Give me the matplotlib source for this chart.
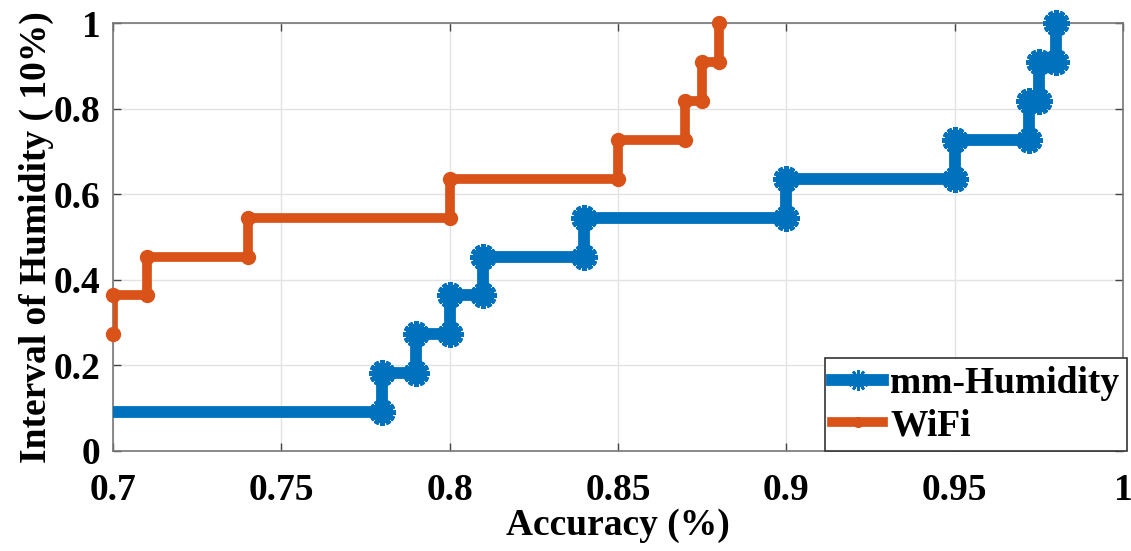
import numpy as np
import matplotlib
matplotlib.use("Agg")
import matplotlib.pyplot as plt

# sorted accuracies, one sample per step of the CDF (11 samples each)
n_samples = 11
mm_acc = [0.65, 0.78, 0.79, 0.80, 0.81, 0.84, 0.90, 0.95, 0.972, 0.975, 0.98]
wifi_acc = [0.60, 0.65, 0.68, 0.70, 0.71, 0.74, 0.80, 0.85, 0.87, 0.875, 0.88]

labels = ["mm-Humidity", "WiFi"]
xticks = [0.7, 0.75, 0.8, 0.85, 0.9, 0.95, 1]
yticks = [0, 0.2, 0.4, 0.6, 0.8, 1]

plt.rcParams["font.family"] = ["Liberation Serif", "DejaVu Serif"]
plt.rcParams["font.weight"] = "bold"
plt.rcParams["font.size"] = 27


def corners(acc):
    # every step gives two corners: before and after the jump
    xs, ys = [], []
    for i, a in enumerate(acc):
        xs += [a, a]
        ys += [i / n_samples, (i + 1) / n_samples]
    return np.array(xs), np.array(ys)


fig = plt.figure(figsize=(11.31, 5.51), dpi=100)
ax = fig.add_axes([0.0999, 0.1815, 0.893, 0.7765])

blue = "#0072BD"
orange = "#D95319"

bx, by = corners(mm_acc)
ox, oy = corners(wifi_acc)

ax.plot(bx, by, color=blue, lw=8.5, solid_joinstyle="miter", zorder=3)
ax.plot(ox, oy, color=orange, lw=7, solid_joinstyle="miter", zorder=3)

kb = bx >= 0.7
ax.plot(bx[kb], by[kb], ls="none", marker=(12, 2, 0), ms=19, mew=3.5,
        color=blue, clip_on=False, zorder=4)
ko = ox >= 0.7
ax.plot(ox[ko], oy[ko], ls="none", marker="o", ms=10, color=orange,
        clip_on=False, zorder=4)

# legend proxies
hb, = ax.plot([], [], color=blue, lw=8.5, marker=(12, 2, 0), ms=15, mew=2)
ho, = ax.plot([], [], color=orange, lw=7, marker="o", ms=7)

ax.set_xlim(0.7, 1)
ax.set_ylim(0, 1)
ax.set_xticks(xticks)
ax.set_xticklabels([f"{t:g}" for t in xticks])
ax.set_yticks(yticks)
ax.set_yticklabels([f"{t:g}" for t in yticks])
ax.grid(True, color="#e3e3e3", lw=1)
ax.set_axisbelow(True)
ax.tick_params(direction="in", top=True, right=True, length=6, width=1,
               color="#444444")
ax.tick_params(axis="x", pad=16)
ax.tick_params(axis="y", pad=9)
for s in ax.spines.values():
    s.set_color("#777777")
    s.set_linewidth(1.2)

ax.set_xlabel("Accuracy (%)", fontweight="bold", labelpad=0)
ax.set_ylabel("Interval of Humidity ( 10%)", fontweight="bold", labelpad=0)

leg = ax.legend([hb, ho], labels, loc="lower right", bbox_to_anchor=(1.004, 0.0),
                borderaxespad=0, handlelength=1.35, handletextpad=0.2,
                labelspacing=0.2, borderpad=0.2, fancybox=False,
                framealpha=1, edgecolor="#333333")
leg.get_frame().set_linewidth(1.2)

fig.savefig("out.png", dpi=100)
